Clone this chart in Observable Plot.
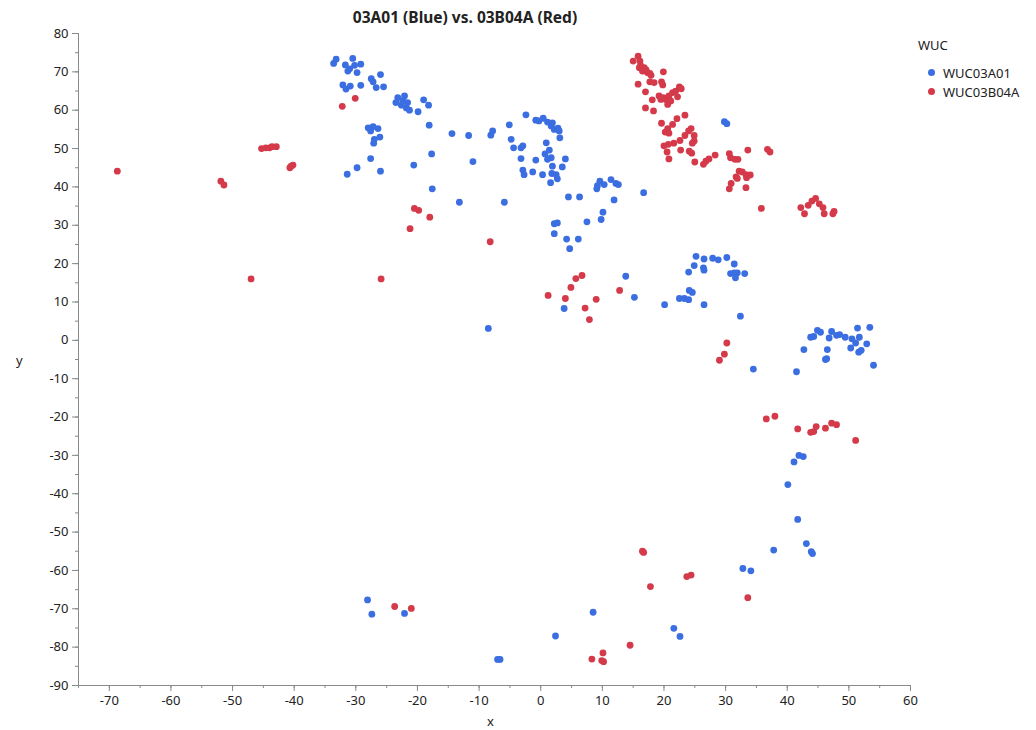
<!DOCTYPE html>
<html>
<head>
<meta charset="utf-8">
<script src="https://cdn.jsdelivr.net/npm/d3@7"></script>
<script src="https://cdn.jsdelivr.net/npm/@observablehq/plot@0.6"></script>
<style>
  html, body { margin: 0; padding: 0; background: #fff; }
  #wrap { position: relative; width: 1036px; height: 730px; font-family: "Noto Sans", "Open Sans", sans-serif; color: #222; }
  #title { position: absolute; left: 0; width: 930px; top: 6px; text-align: center; font-weight: bold; font-size: 15.5px; }
  .lab { position: absolute; font-size: 13px; }
  #legend { position: absolute; left: 918px; top: 36px; font-size: 13px; }
  #legend .item { display: flex; align-items: center; height: 19px; margin-left: 10px; }
  #legend .sw { width: 7px; height: 7px; border-radius: 50%; margin-right: 8px; }
</style>
</head>
<body>
<div id="wrap">
  <div id="chart"></div>
  <div id="title">03A01 (Blue) vs. 03B04A (Red)</div>
  <div class="lab" style="left:487px; top:712px;">x</div>
  <div class="lab" style="left:16px; top:351px;">y</div>
  <div id="legend">
    <div style="margin-bottom:9px;">WUC</div>
    <div class="item"><span class="sw" style="background:#3b6ee0"></span>WUC03A01</div>
    <div class="item"><span class="sw" style="background:#d43a4a"></span>WUC03B04A</div>
  </div>
</div>
<script>
const seriesNames = ["WUC03A01", "WUC03B04A"];
const seriesColors = ["#3b6ee0", "#d43a4a"];
const xTicks = [-70, -60, -50, -40, -30, -20, -10, 0, 10, 20, 30, 40, 50, 60];
const yTicks = [-90, -80, -70, -60, -50, -40, -30, -20, -10, 0, 10, 20, 30, 40, 50, 60, 70, 80];

const blueX = [
 -33.2,-33.6,-30.5,-31.7,-31.0,-30.2,-29.2,-29.8,-31.3,-27.5,-26.0,-27.2,-26.7,-25.5,-32.1,-31.6,-30.9,-29.2,
 -28.0,-27.2,-26.4,-27.6,-26.1,-27.0,-27.1,-27.6,-29.8,-31.4,-26.0,-23.2,-22.1,-23.5,-22.4,-21.6,-21.8,-21.3,
 -22.6,-19.9,-19.0,-18.2,-18.1,-14.4,-17.7,-20.6,-17.6,
 -11.7,-8.1,-7.8,-11.0,-13.2,-5.9,-5.1,-2.4,-4.8,-4.4,-3.2,-2.9,-3.2,-2.9,-2.7,-0.8,-0.3,0.4,1.1,1.9,1.7,2.2,
 2.8,3.0,3.1,0.9,1.4,0.7,1.7,1.1,-0.8,-1.3,0.3,1.9,1.8,2.5,2.7,1.6,3.5,4.0,4.5,6.3,2.2,2.7,2.2,4.2,6.1,4.7,
 7.5,9.8,10.1,11.9,9.1,9.2,9.6,10.3,11.4,12.2,12.6,
 29.8,30.2,16.7,
 13.8,15.2,3.8,20.1,22.5,23.3,24.0,24.1,24.6,26.5,32.4,24.0,24.9,25.2,26.5,26.4,26.5,27.9,28.8,30.2,31.4,30.8,
 31.4,31.9,31.6,33.1,
 44.9,45.4,43.8,44.3,42.7,46.8,47.2,48.0,48.5,49.4,50.5,51.4,53.4,51.7,51.1,50.3,51.6,52.0,52.9,54.0,46.5,46.2,
 46.4,41.5,34.5,
 41.9,42.6,41.1,40.1,41.7,37.8,43.1,43.9,44.1,32.8,34.1,
 -28.1,-27.4,-22.1,-7.0,-6.6,2.4,8.5,21.6,22.6,-8.5
];
const blueY = [
 73.3,72.2,73.5,71.8,70.8,71.7,72.0,69.8,70.2,68.2,69.3,67.4,65.9,66.1,66.6,65.5,66.3,66.5,
 55.4,55.7,55.2,54.6,53.0,52.4,51.4,47.4,45.0,43.3,44.1,63.3,63.7,62.0,62.4,62.0,60.6,60.0,
 61.3,59.6,62.7,61.3,56.1,53.9,48.6,45.7,39.5,
 53.4,53.5,54.6,46.6,36.0,36.0,56.2,58.8,52.4,50.2,50.2,50.7,47.4,44.4,43.2,57.4,57.2,57.9,56.9,56.7,55.9,55.0,
 55.3,54.6,52.8,51.5,49.6,48.6,47.6,47.2,47.0,43.9,43.2,45.4,43.5,43.2,42.1,41.1,45.2,47.3,37.4,37.4,30.4,30.6,27.8,26.4,26.4,23.9,
 30.9,31.5,33.4,36.6,39.5,40.3,41.5,40.6,41.9,40.9,40.6,
 57.0,56.5,38.5,
 16.7,11.2,8.3,9.3,10.9,10.9,10.6,13.0,12.5,9.3,6.3,17.8,19.5,21.9,21.2,18.9,18.3,21.4,21.0,21.6,19.9,17.4,
 17.6,17.6,16.3,17.4,
 2.6,2.1,0.8,1.0,-2.4,0.6,2.3,1.3,1.5,0.8,0.4,3.2,3.4,0.8,-0.7,-2.0,-3.1,-2.6,-0.9,-6.5,-2.4,-5.0,
 -4.8,-8.2,-7.5,
 -30.0,-30.3,-31.7,-37.6,-46.7,-54.7,-53.0,-55.1,-55.6,-59.5,-60.1,
 -67.7,-71.4,-71.2,-83.2,-83.2,-77.1,-70.9,-75.1,-77.2,3.1
];

const redX = [
 -30.1,-32.2,-8.2,
 15.8,15.0,16.1,16.2,16.0,16.8,17.1,16.5,17.3,17.7,17.9,19.9,15.8,17.7,18.4,19.6,19.8,17.0,18.1,19.2,19.9,20.3,
 20.8,21.4,21.9,22.5,22.8,22.2,21.1,20.6,19.5,17.0,18.3,23.4,22.1,19.6,21.4,20.6,20.2,20.8,24.4,24.0,23.4,24.9,
 24.9,24.6,22.6,21.6,20.7,20.0,20.5,20.8,22.7,24.1,24.5,25.0,26.4,26.8,27.3,28.3,30.6,30.8,31.5,32.0,33.6,36.8,
 37.2,32.2,32.7,33.3,34.0,31.7,31.9,33.4,30.9,30.6,33.3,35.8,
 42.2,42.8,43.4,44.0,44.6,45.2,45.8,46.0,47.6,47.4,
 1.2,4.0,4.9,5.7,6.7,9.0,7.2,7.9,12.8,
 30.2,29.8,29.0,
 36.6,38.0,41.7,43.8,44.3,44.7,46.2,47.2,48.0,51.1,
 -68.7,-51.9,-51.4,-40.5,-40.7,-40.2,-47.0,-25.9,-20.5,-19.8,-21.2,-18.0,
 -45.3,-44.6,-44.0,-43.6,-42.9,
 -23.7,-21.0,8.3,10.1,9.9,10.2,14.5,17.8,
 16.7,16.5,23.7,24.4,33.6
];
const redY = [
 63.1,61.0,25.7,
 74.1,72.8,72.8,71.7,71.1,71.1,70.5,70.2,69.8,69.6,69.1,70.0,66.8,67.4,67.2,67.4,66.6,64.8,62.7,63.7,63.3,62.8,
 63.7,64.6,65.0,66.1,65.6,63.5,62.4,61.5,62.8,60.6,59.8,58.7,57.8,56.6,56.3,55.2,54.3,54.0,55.2,54.6,53.4,53.4,
 52.0,51.4,52.1,51.4,51.1,50.7,49.1,47.3,49.6,49.3,48.8,46.5,45.9,46.7,47.3,48.3,48.7,47.6,47.2,47.2,49.6,49.8,
 49.1,44.1,43.9,43.2,43.1,42.6,42.2,42.4,40.9,39.5,39.8,34.4,
 34.6,33.0,35.2,36.3,37.0,35.6,34.6,33.0,33.6,33.0,
 11.7,10.9,13.8,16.1,16.9,10.7,8.4,5.4,13.0,
 -0.7,-3.6,-5.2,
 -20.5,-19.8,-23.1,-24.0,-23.8,-22.5,-22.9,-21.6,-22.0,-26.1,
 44.1,41.5,40.5,45.4,45.0,45.7,16.0,16.0,34.4,33.9,29.1,32.1,
 50.0,50.2,50.2,50.5,50.5,
 -69.4,-69.9,-83.1,-81.5,-83.5,-83.8,-79.5,-64.2,
 -55.3,-55.0,-61.6,-61.2,-67.1
];

const data = [
  ...blueX.map((x, i) => ({x, y: blueY[i], s: seriesNames[0]})),
  ...redX.map((x, i) => ({x, y: redY[i], s: seriesNames[1]}))
];

const xMinor = d3.range(-75, 61, 5);
const yMinor = d3.range(-90, 81, 5);
const axisGray = "#8a8a8a";
const fmt = d => String(d);

const chart = Plot.plot({
  width: 1036,
  height: 730,
  marginTop: 33,
  marginRight: 126,
  marginBottom: 45,
  marginLeft: 78,
  x: {domain: [-75, 60]},
  y: {domain: [-90, 80]},
  color: {domain: seriesNames, range: seriesColors},
  style: {fontFamily: "'Noto Sans', 'Open Sans', sans-serif", fontSize: "13px", color: "#222", background: "white"},
  marks: [
    Plot.axisX({ticks: xMinor, tickSize: 3, fill: "none", stroke: axisGray, label: null}),
    Plot.axisX({ticks: xTicks, tickSize: 6, tickPadding: 4, tickFormat: fmt, stroke: axisGray, fill: "#222", label: null, fontSize: 13}),
    Plot.axisY({ticks: yMinor, tickSize: 3, fill: "none", stroke: axisGray, label: null}),
    Plot.axisY({ticks: yTicks, tickSize: 6, tickPadding: 4, tickFormat: fmt, stroke: axisGray, fill: "#222", label: null, fontSize: 13}),
    Plot.ruleX([-75], {stroke: axisGray}),
    Plot.ruleY([-90], {stroke: axisGray}),
    Plot.dot(data, {x: "x", y: "y", fill: "s", r: 3.4})
  ]
});
document.getElementById("chart").appendChild(chart);
</script>
</body>
</html>
